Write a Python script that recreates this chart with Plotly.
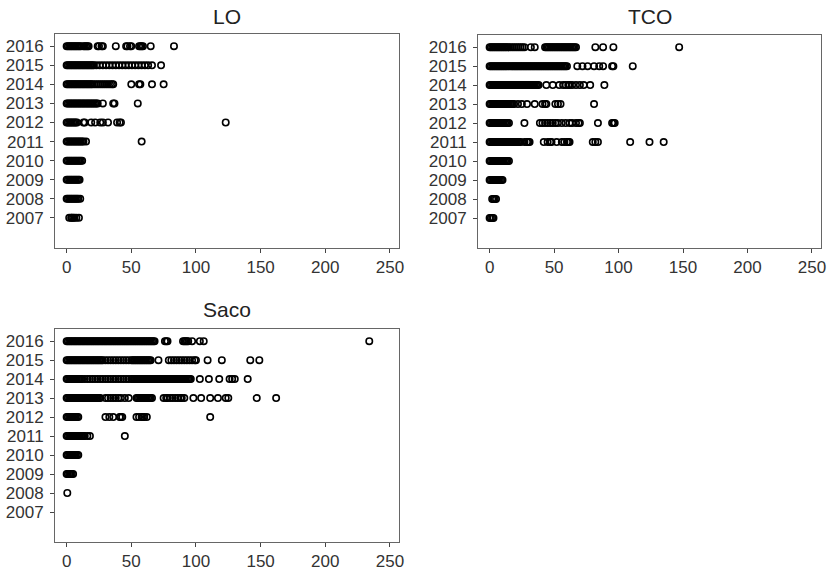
import plotly.graph_objects as go

# ---------------- data ----------------
YEARS = [2007, 2008, 2009, 2010, 2011, 2012, 2013, 2014, 2015, 2016]
X_TICKS = [0, 50, 100, 150, 200, 250]
PANEL_TITLES = ["LO", "TCO", "Saco"]

# LO
LO_2016 = [0, 1, 2, 3, 4, 5, 6, 7, 8, 9, 10, 11, 13, 14, 15, 16, 17, 24, 25, 27, 28, 38,
           46, 47, 49, 50, 56, 57, 58, 59, 65, 83]
LO_2015 = [0, 1, 2, 3, 4, 5, 6, 7, 8, 9, 10, 11, 12, 13, 14, 15, 16, 17, 18, 19, 20, 21,
           23, 25.5, 28, 30.5, 33, 35.5, 38, 40.5, 43, 45.5, 48, 50.5, 53, 55.5, 58, 60.5,
           63, 66, 73]
LO_2014 = [0, 1, 2, 3, 4, 5, 6, 7, 8, 9, 10, 11, 12, 13, 14, 15, 16, 17, 18, 19, 20,
           21.5, 23, 24.5, 26, 27.5, 29, 30.5, 32, 33.5, 35, 36, 50, 56, 57, 66, 75]
LO_2013 = [0, 1, 2, 3, 4, 5, 6, 7, 8, 9, 10, 11, 12, 13, 14, 15, 16, 17, 18, 19, 20, 21,
           22, 23, 24, 28, 36, 37, 55]
LO_2012 = [0, 1, 2, 3, 4, 5, 6, 7, 8, 13, 14, 19, 22, 26, 28, 32, 39, 41, 42, 123]
LO_2011 = [0, 1, 2, 3, 4, 5, 6, 7, 8, 9, 10, 11, 12, 13, 15, 58]
LO_2010 = [0, 1, 2, 3, 4, 5, 6, 7, 8, 9, 10, 11, 12]
LO_2009 = [0, 1, 2, 3, 4, 5, 6, 7, 8, 9, 10]
LO_2008 = [0, 1, 2, 3, 4, 5, 6, 7, 8, 9, 10.5]
LO_2007 = [2, 3.5, 4, 5, 6, 7.5, 9.5]

# TCO
TCO_2016 = [0, 1, 2, 3, 4, 5, 6, 7, 8, 9, 10, 11, 12, 13, 14, 15, 16.5, 18, 19.5, 21, 22.5,
            24, 25.5, 27, 32, 35, 43, 44, 45, 46, 47, 48, 49, 50, 51, 52, 53, 54, 55, 56,
            57, 58, 59, 60, 61, 62, 63, 64, 65, 66, 67, 82, 88, 96, 147]
TCO_2015 = [0, 1, 2, 3, 4, 5, 6, 7, 8, 9, 10, 11, 12, 13, 14, 15, 16, 17, 18, 19, 20, 21,
            22, 23, 24, 25, 26, 27, 28, 29, 30, 31, 32, 33, 34, 35, 36, 37, 38, 39, 40, 41,
            42, 43, 44, 45, 46, 47, 48, 49, 50, 51, 52, 53, 54, 55, 56, 57, 58, 59, 60,
            68, 72, 76, 81, 85, 88, 95, 96, 111]
TCO_2014 = [0, 1, 2, 3, 4, 5, 6, 7, 8, 9, 10, 11, 12, 13, 14, 15, 16, 17, 18, 19, 20, 21,
            22, 23, 24, 25, 26, 27, 28, 29, 30, 31, 32, 33, 34, 35, 36, 37, 38,
            44, 49, 54, 57, 59, 61, 62, 64, 67, 70, 73, 78, 89]
TCO_2013 = [0, 1, 2, 3, 4, 5, 6, 7, 8, 9, 10, 11, 12, 13, 14, 15, 16, 17, 18, 19,
            22, 25, 29, 35, 41, 43, 44, 51, 53, 55, 81]
TCO_2012 = [0, 1, 2, 3, 4, 5, 6, 7, 8, 9, 10, 11, 12, 13, 14, 15, 27, 39, 41, 43, 45, 47,
            49, 51, 53, 56, 59, 62, 64, 67, 69, 70, 84, 95, 96, 97]
TCO_2011 = [0, 1, 2, 3, 4, 5, 6, 7, 8, 9, 10, 11, 12, 13, 14, 15, 16, 17, 18, 19, 20, 21,
            22, 23, 24, 27, 29, 30, 31, 42, 45, 47, 48, 52, 56, 58, 60, 61, 62, 80, 82, 84,
            109, 124, 135]
TCO_2010 = [0, 1, 2, 3, 4, 5, 6, 7, 8, 9, 10, 11, 12, 13, 14, 15]
TCO_2009 = [0, 1, 2, 3, 4, 5, 6, 7, 8, 9, 10]
TCO_2008 = [2, 3, 4, 5]
TCO_2007 = [0, 1, 2, 3]

# Saco
SACO_2016 = [0, 1, 2, 3, 4, 5, 6, 7, 8, 9, 10, 11, 12, 13, 14, 15, 16, 17, 18, 19, 20, 21,
             22, 23, 24, 25, 26, 27, 28, 29, 30, 31, 32, 33, 34, 35, 36, 37, 38, 39, 40, 41,
             42, 43, 44, 45, 46, 47, 48, 49, 50, 51, 52, 53, 54, 55, 56, 57, 58, 59, 60, 61,
             62, 63, 64, 65, 66, 67, 68, 76, 77, 78, 90, 91, 92, 93, 94, 97, 103, 106, 234]
SACO_2015 = [0, 1, 2, 3, 4, 5, 6, 7, 8, 9, 10, 11, 12, 13, 14, 15, 16, 17, 18, 19, 20, 21,
             22, 23, 24, 25, 26, 27, 28, 30, 32, 34, 36, 38, 40, 42, 44, 46, 48,
             50, 51, 52, 53, 54, 55, 56, 57, 58, 59, 60, 61, 62, 63, 64, 65, 71,
             79, 81, 83, 85, 87, 89, 91, 93, 95, 97, 99, 100, 109, 120, 142, 149]
SACO_2014 = [0, 1, 2, 3, 4, 5, 6, 7, 8, 9, 10, 11, 12, 14, 16, 18, 20, 22, 24, 26, 28, 30,
             32, 34, 36, 38, 40, 42, 44, 46, 48, 50, 51, 52, 53, 54, 55, 56, 57, 58, 59, 60,
             61, 62, 63, 64, 65, 66, 67, 68, 69, 70, 71, 72, 73, 74, 75, 76, 77, 78, 79, 80,
             81, 82, 83, 84, 85, 86, 87, 88, 89, 90, 91, 92, 93, 94, 95, 96,
             103, 110, 118, 126, 128, 130, 140]
SACO_2013 = [0, 1, 2, 3, 4, 5, 6, 7, 8, 9, 10, 11, 12, 13, 14, 15, 16, 17, 18, 19, 20, 21,
             22, 23, 24, 25, 26, 30, 32, 34, 36, 38, 40, 42, 45, 48,
             54, 55, 56, 57, 58, 59, 60, 61, 62, 63, 64, 65, 66,
             75, 77, 78, 80, 82, 84, 86, 88, 89, 91, 98, 104, 111, 117, 123, 125, 147, 162]
SACO_2012 = [0, 1, 2, 3, 4, 5, 6, 7, 8, 9, 30, 33, 36, 41, 42, 43, 54, 56, 58, 59, 60, 62,
             111]
SACO_2011 = [0, 1, 2, 3, 4, 5, 6, 7, 8, 9, 10, 11, 12, 13, 14, 16, 18, 45]
SACO_2010 = [0, 1, 2, 3, 4, 5, 6, 7, 8, 9]
SACO_2009 = [0, 1, 2, 3, 4, 5]
SACO_2008 = [0.5]
SACO_2007 = []

LO_SERIES = [LO_2007, LO_2008, LO_2009, LO_2010, LO_2011, LO_2012, LO_2013, LO_2014,
             LO_2015, LO_2016]
TCO_SERIES = [TCO_2007, TCO_2008, TCO_2009, TCO_2010, TCO_2011, TCO_2012, TCO_2013,
              TCO_2014, TCO_2015, TCO_2016]
SACO_SERIES = [SACO_2007, SACO_2008, SACO_2009, SACO_2010, SACO_2011, SACO_2012, SACO_2013,
               SACO_2014, SACO_2015, SACO_2016]

# ---------------- layout helpers ----------------
W, H = 830, 572
FONT = "Liberation Sans, Arial, Helvetica, sans-serif"


def px_x(a, b):
    return [a / W, b / W]


def px_y(top, bottom):
    return [1 - bottom / H, 1 - top / H]


panels = [
    (PANEL_TITLES[0], LO_SERIES, px_x(55, 399), px_y(34, 248), "", 17),
    (PANEL_TITLES[1], TCO_SERIES, px_x(478, 821), px_y(35, 248), "2", 17),
    (PANEL_TITLES[2], SACO_SERIES, px_x(55, 399), px_y(329, 542), "3", 309),
]

fig = go.Figure()
annotations = []
for title, series, xdom, ydom, suffix, title_y in panels:
    xs, ys = [], []
    for yr, vals in zip(YEARS, series):
        xs.extend(vals)
        ys.extend([yr] * len(vals))
    fig.add_trace(go.Scatter(
        x=xs, y=ys, mode="markers",
        xaxis="x" + suffix, yaxis="y" + suffix,
        marker=dict(symbol="circle-open", size=6.4, color="#000",
                    line=dict(width=1.6, color="#000")),
        hoverinfo="x+y", showlegend=False,
    ))
    axis_common = dict(
        ticks="outside", ticklen=4, tickwidth=1, tickcolor="#444",
        showline=True, linecolor="#666", linewidth=1, mirror=True,
        showgrid=False, zeroline=False, automargin=False,
        tickfont=dict(family=FONT, size=17, color="#333"),
    )
    fig.layout["xaxis" + suffix] = dict(
        domain=xdom, range=[-9, 257], tickvals=X_TICKS,
        anchor="y" + suffix, **axis_common)
    fig.layout["yaxis" + suffix] = dict(
        domain=ydom, range=[2005.42, 2016.64], tickvals=YEARS,
        anchor="x" + suffix, ticklabelstandoff=3, **axis_common)
    annotations.append(dict(
        text=title, x=(xdom[0] + xdom[1]) / 2, y=1 - title_y / H,
        xref="paper", yref="paper", xanchor="center", yanchor="middle",
        showarrow=False, font=dict(family=FONT, size=21, color="#222")))

fig.update_layout(
    width=W, height=H, margin=dict(l=0, r=0, t=0, b=0, autoexpand=False),
    paper_bgcolor="white", plot_bgcolor="white",
    showlegend=False, annotations=annotations,
)

fig.write_html(
    "out.html",
    config={"displayModeBar": False},
    post_script="document.body.style.margin='0';document.body.style.overflow='hidden';",
)
